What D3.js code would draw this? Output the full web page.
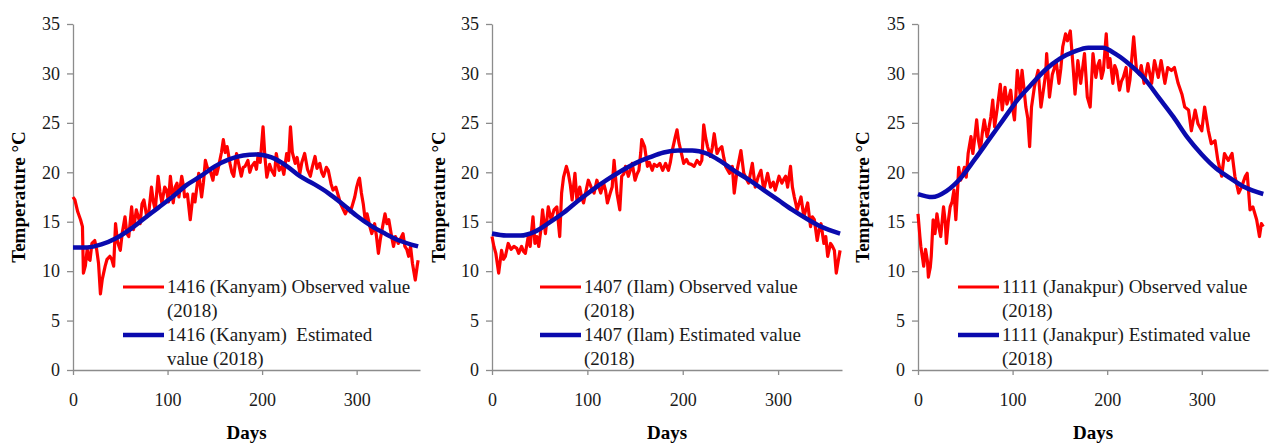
<!DOCTYPE html>
<html>
<head>
<meta charset="utf-8">
<script src="https://cdn.jsdelivr.net/npm/d3@7"></script>
<style>
  html, body { margin: 0; padding: 0; background: #fff; }
  svg { display: block; }
  svg text { font-family: "Liberation Serif", "Times New Roman", serif; }
</style>
</head>
<body>
<svg id="chart" width="1271" height="444"></svg>
<script>
// observed daily mean temperature, day of year / degC
const kanyamObsDays = [0,2,5,8,10,11,13,15,17,18,20,23,25,27,29,31,34,36,39,41,43,45,47,50,52,55,57,59,62,64,67,69,71,73,75,78,80,83,85,87,90,92,94,97,99,101,103,106,108,110,112,115,117,118,121,124,127,129,131,133,136,138,140,142,145,148,150,152,154,157,159,161,163,166,168,170,173,176,178,180,182,185,187,189,192,194,196,198,201,203,205,208,210,213,215,218,221,223,226,228,230,232,235,237,240,242,245,248,251,253,256,258,261,263,265,268,270,273,275,278,281,283,286,288,291,293,295,298,300,302,303,305,307,309,311,314,316,319,321,323,325,328,330,332,334,337,339,341,344,346,349,351,353,355,357,359,362,364,365];
const kanyamObs = [17.5,17.2,16,15.2,14.5,9.8,10.5,12.2,11.2,11.1,12.8,13.1,12.2,10.8,7.7,9.2,10.5,11.2,11.5,11.2,10.5,14.8,13,12.1,13.8,15.5,13.8,13.5,16.5,14.2,16.2,15.5,14.8,16.8,17.2,15.5,15.8,18.5,17,16.2,19.6,18,16.9,18.5,18.2,17,19.6,16.9,18.5,18.9,17.5,19.6,18.5,17.5,17.8,15.2,17.8,17,18.5,19.9,17.5,19,21.2,20.5,20.2,19.2,20.5,19.8,20.6,22,23.3,22,22.6,20.9,20,19.6,21.9,20.5,19.6,20.5,20.6,21.2,20,20.6,21,20.3,21.9,21,24.6,21.5,19.5,20.8,20.2,19.7,21.9,20.2,20.6,19.8,21.9,21.2,24.6,22,20.9,21.5,19.9,21,21.9,20.3,19.6,20.5,21.6,20.4,20.9,20,19.6,20.5,20.2,18.8,18.2,18.5,17.5,16.8,16.2,15.8,16.4,16,16.5,17.5,18.5,19.2,19.4,17.9,16.8,15.2,15.8,14.5,13.8,14.8,13.5,11.8,13.2,14.8,15.8,14.8,15.2,13.5,12.5,13.5,12.8,13.2,13.8,12.5,12.2,11.5,12.5,10.8,9.1,10.5,11.1];

const ilamObsDays = [0,2,4,7,10,12,14,17,20,23,26,28,31,33,35,38,40,43,45,47,49,51,53,56,59,62,65,68,70,71,73,75,78,80,82,84,87,89,92,94,96,99,101,104,107,110,112,114,117,119,121,124,126,128,131,134,136,138,140,143,145,147,150,152,154,156,157,160,163,165,168,170,173,176,179,182,185,187,189,192,194,196,198,201,204,206,209,212,215,218,220,222,224,226,229,231,233,236,238,241,243,245,249,252,254,257,261,264,267,269,273,276,279,282,285,289,292,295,297,301,304,306,308,310,313,315,317,320,324,327,329,331,334,336,338,341,343,345,348,350,352,355,357,359,361,363,365];
const ilamObs = [13.5,12.5,11.8,9.8,12.1,11.2,11.5,12.8,12.2,12.5,12.3,11.8,12.5,12,11.8,13.5,12.5,15.5,12.8,13.5,12.5,14,16.2,13.8,16.5,15.2,16.2,16.5,14.5,13.5,17.9,19.5,20.6,19.9,18.8,17.2,19.9,17.2,18.5,17.5,16.9,18.3,19.2,18.5,17.9,19.2,18.5,17.9,18.9,18.2,16.9,17.9,18.5,21.2,17.9,16.2,19.6,19.8,20.6,19.6,20.2,20.9,19.2,19.8,20.2,22,23.3,22.6,20.6,21,20.2,20.8,20.6,20.9,20.2,20.9,20.2,21,22.2,23.5,24.3,23,22.2,20.9,21.3,20.9,20.8,20.6,21.2,20.8,21.2,24.8,23.5,22.6,21.6,22.5,23.9,21.9,22.3,22.6,21.5,20.6,19.9,20.6,17.9,20.2,22.2,19.9,19.3,18.9,20.9,18.5,19.5,20.2,18.2,19.9,18.5,19,18.2,19.6,18.9,19.3,19.6,18.5,20.6,18.5,17.5,16.2,17.5,15.5,16.2,16.9,14.5,15.5,15.2,13.1,14.2,14.8,12.8,13.5,11.5,12.8,12.5,12.1,9.8,11,12.1];

const janakpurObsDays = [0,2,3,5,6,8,10,11,13,14,16,18,20,22,24,26,27,29,30,32,34,36,38,40,42,43,45,47,49,51,53,56,58,60,62,64,66,68,70,73,75,77,79,81,84,87,89,92,94,96,98,100,102,105,108,110,112,114,116,118,120,123,125,127,130,133,135,136,139,142,144,146,149,151,153,156,158,161,164,166,169,172,174,176,179,182,185,188,190,192,194,196,199,201,203,206,208,210,213,215,217,220,222,224,228,231,234,236,239,243,247,250,254,257,261,264,268,271,275,279,282,286,289,293,296,300,303,307,310,314,317,321,324,328,332,335,339,342,346,348,351,354,358,361,363,365];
const janakpurObs = [15.8,13.5,12.5,11.2,10.5,12.2,11,9.4,10.4,11.5,15.2,13.8,15.8,14.5,13.5,15.5,16.5,14.8,12.8,15,16.5,17,18.2,15.2,18.5,20.5,19.2,19.8,20.5,19.5,21.9,23.6,21.9,23.5,25.3,23.2,22.2,24,25.3,23.6,24.5,25.6,27.3,24.6,26.6,28.9,26.3,28.6,26.9,27.5,28.3,26.5,25.3,30.3,27.9,30.3,28.5,26.6,25.5,22.6,26.6,28.6,29.5,30.3,26.6,28.6,30,32,27.6,29.9,30.5,31.3,29,30.5,32.7,34,33.3,34.3,30.6,27.9,31.3,29,30.5,32,27.6,26.6,32,29.6,30.8,31.3,29.5,30.3,34,30.6,31.5,29,30.8,30.3,28.3,29.2,29.6,30.6,28.2,29.3,33.7,30.3,29.9,30.8,29,31,29,31.3,29.6,31.3,29,30.6,30.3,30.6,29,27.9,26.6,26.3,24.2,26.3,24.9,24.2,26.6,24.2,22.9,23.2,21.2,19.6,21.9,21.2,21.9,19.6,17.9,18.5,19.6,19.9,16.2,16.5,15.2,13.5,14.8,14.5];

// estimated (fitted) values, read every 15 days
const estDays = [0,15,30,45,60,75,90,105,120,135,150,165,180,195,210,225,240,255,270,285,300,315,330,345,365];
const kanyamEst = [12.4,12.4,12.7,13.3,14.2,15.3,16.4,17.5,18.7,19.6,20.6,21.3,21.7,21.8,21.5,20.7,19.6,18.8,17.9,16.8,15.6,14.6,13.8,13.1,12.5];
const ilamEst = [13.8,13.6,13.6,14.0,14.9,15.9,17.1,18.2,19.2,20.1,20.9,21.5,22.0,22.2,22.2,21.9,21.1,20.1,19.2,18.2,17.2,16.2,15.3,14.5,13.8];
const janakpurEst = [17.8,17.5,18.1,19.4,21.3,23.3,25.3,27.3,28.9,30.4,31.5,32.2,32.6,32.6,31.9,30.8,29.4,27.5,25.6,23.5,21.8,20.4,19.4,18.5,17.8];

const yTicks = [0, 5, 10, 15, 20, 25, 30, 35];
const xTicks = [0, 100, 200, 300];
const obsLabels = [["1416 (Kanyam) Observed value", "(2018)"], ["1407 (Ilam) Observed value", "(2018)"], ["1111 (Janakpur) Observed value", "(2018)"]];
const estLabels = [["1416 (Kanyam)  Estimated", "value (2018)"], ["1407 (Ilam) Estimated value", "(2018)"], ["1111 (Janakpur) Estimated value", "(2018)"]];

const RED = "#ff0000", BLUE = "#0a0aae", AXIS = "#8c8c8c";
const SERIF = "'Liberation Serif', 'Times New Roman', serif";

// panel frames
const panels = [
  { left: 73,  right: 420,  xMax: 367, obsDays: kanyamObsDays,   obs: kanyamObs,   est: kanyamEst,   yTitleX: 18,  legX: 123 },
  { left: 492, right: 842,  xMax: 367, obsDays: ilamObsDays,     obs: ilamObs,     est: ilamEst,     yTitleX: 438, legX: 540 },
  { left: 918, right: 1268, xMax: 370, obsDays: janakpurObsDays, obs: janakpurObs, est: janakpurEst, yTitleX: 862, legX: 958 }
];
const plotTop = 24, plotBottom = 370;

const svg = d3.select("#chart");

panels.forEach((p, i) => {
  const x = d3.scaleLinear().domain([0, p.xMax]).range([p.left, p.right]);
  const y = d3.scaleLinear().domain([0, 35]).range([plotBottom, plotTop]);
  const g = svg.append("g").attr("font-family", SERIF);

  const yAxis = g.append("g")
    .attr("transform", `translate(${p.left},0)`)
    .call(d3.axisLeft(y).tickValues(yTicks).tickSize(6).tickPadding(7).tickSizeOuter(0));
  const xAxis = g.append("g")
    .attr("transform", `translate(0,${plotBottom})`)
    .call(d3.axisBottom(x).tickValues(xTicks).tickSize(5).tickPadding(18).tickSizeOuter(0));
  [yAxis, xAxis].forEach(a => {
    a.attr("font-family", SERIF);
    a.select(".domain").attr("stroke", AXIS).attr("stroke-width", 1.3);
    a.selectAll(".tick line").attr("stroke", AXIS).attr("stroke-width", 1.3);
    a.selectAll(".tick text").attr("fill", "#1a1a1a").style("font-size", "18px");
  });

  const obsPts = p.obsDays.map((d, k) => [d, p.obs[k]]);
  const estPts = estDays.map((d, k) => [d, p.est[k]]);

  g.append("path")
    .datum(obsPts)
    .attr("fill", "none")
    .attr("stroke", RED)
    .attr("stroke-width", 3.2)
    .attr("stroke-linejoin", "round")
    .attr("d", d3.line().x(d => x(d[0])).y(d => y(d[1])));

  g.append("path")
    .datum(estPts)
    .attr("fill", "none")
    .attr("stroke", BLUE)
    .attr("stroke-width", 4.5)
    .attr("d", d3.line().curve(d3.curveMonotoneX).x(d => x(d[0])).y(d => y(d[1])));

  // axis titles
  g.append("text")
    .attr("transform", `translate(${p.yTitleX},${(plotTop + plotBottom) / 2}) rotate(-90)`)
    .attr("text-anchor", "middle")
    .attr("dy", "0.35em")
    .style("font-size", "19px")
    .style("font-weight", "bold")
    .text("Temperature °C");
  g.append("text")
    .attr("x", (p.left + p.right) / 2)
    .attr("y", 439)
    .attr("text-anchor", "middle")
    .style("font-size", "19px")
    .style("font-weight", "bold")
    .text("Days");

  // legend
  const leg = g.append("g").attr("transform", `translate(${p.legX},0)`);
  [[obsLabels[i], RED, 3.2, 287], [estLabels[i], BLUE, 4.5, 335]].forEach(([lines, col, w, ly]) => {
    leg.append("line")
      .attr("x1", 0).attr("x2", 41).attr("y1", ly).attr("y2", ly)
      .attr("stroke", col).attr("stroke-width", w);
    lines.forEach((t, k) => {
      leg.append("text")
        .attr("x", 44)
        .attr("y", ly + 6 + k * 23.5)
        .style("font-size", "19px")
        .style("white-space", "pre")
        .attr("fill", "#1a1a1a")
        .text(t);
    });
  });
});
</script>
</body>
</html>
